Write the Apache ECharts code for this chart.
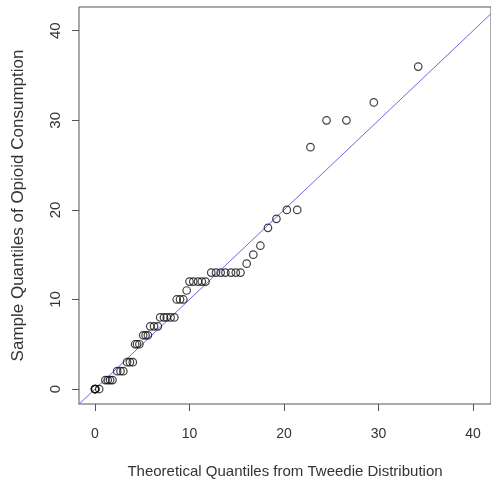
<!DOCTYPE html>
<html>
<head>
<meta charset="utf-8">
<script src="https://cdn.jsdelivr.net/npm/echarts@6/dist/echarts.min.js"></script>
<style>
  html, body { margin: 0; padding: 0; background: #fff; }
  #main { width: 491px; height: 484px; }
</style>
</head>
<body>
<div id="main"></div>
<script>
// theoretical quantiles (x) and sample quantiles (y)
var theoQ = [0, 0, 0, 0.05, 0.45,
  1.1, 1.35, 1.6, 1.85,
  2.35, 2.7, 3.0,
  3.4, 3.7, 4.0,
  4.25, 4.45, 4.7,
  5.1, 5.35, 5.6,
  5.85, 6.25, 6.65,
  6.9, 7.3, 7.6, 8.0, 8.4,
  8.65, 9.0, 9.35,
  9.7,
  10.0, 10.4, 10.9, 11.3, 11.7,
  12.3, 12.8, 13.3, 13.8, 14.4, 14.9, 15.4,
  16.05, 16.75, 17.5, 18.3, 19.2, 20.3, 21.4, 22.8, 24.5, 26.6, 29.5, 34.2];
var sampleQ = [0, 0, 0, 0, 0,
  1, 1, 1, 1,
  2, 2, 2,
  3, 3, 3,
  5, 5, 5,
  6, 6, 6,
  7, 7, 7,
  8, 8, 8, 8, 8,
  10, 10, 10,
  11,
  12, 12, 12, 12, 12,
  13, 13, 13, 13, 13, 13, 13,
  14, 15, 16, 18, 19, 20, 20, 27, 30, 30, 32, 36];
var tickVals = [0, 10, 20, 30, 40];
var refLine = [[-3, -3], [45, 45]];   // y = x

var pts = theoQ.map(function (x, i) { return [x, sampleQ[i]]; });

var myChart = echarts.init(document.getElementById('main'));
// the source picture is stretched vertically, so the rotated y texts run a bit larger
var font = 'Liberation Sans';
var option = {
    animation: false,
    grid: {
        left: 79, right: 0, top: 7, bottom: 79,
        show: true, borderColor: '#555', borderWidth: 1
    },
    xAxis: {
        type: 'value',
        min: -1.69, max: 41.9,
        name: 'Theoretical Quantiles from Tweedie Distribution',
        nameLocation: 'middle',
        nameGap: 60,
        nameTextStyle: { color: '#333', fontFamily: font, fontSize: 15 },
        axisLine: { show: false, onZero: false },
        splitLine: { show: false },
        axisTick: { show: true, length: 7, lineStyle: { color: '#555' }, customValues: tickVals },
        axisLabel: { margin: 23, customValues: tickVals, color: '#333', fontFamily: font, fontSize: 14 }
    },
    yAxis: {
        type: 'value',
        min: -1.67, max: 42.65,
        name: 'Sample Quantiles of Opioid Consumption',
        nameLocation: 'middle',
        nameGap: 52,
        nameTextStyle: { color: '#333', fontFamily: font, fontSize: 17 },
        axisLine: { show: false, onZero: false },
        splitLine: { show: false },
        axisTick: { show: true, length: 7, lineStyle: { color: '#555' }, customValues: tickVals },
        axisLabel: { margin: 16, rotate: 90, customValues: tickVals, color: '#333', fontFamily: font, fontSize: 15 }
    },
    series: [
        {
            type: 'line',
            data: refLine,
            symbol: 'none',
            clip: true,
            lineStyle: { color: '#6a6ae0', width: 1 },
            z: 1
        },
        {
            type: 'scatter',
            data: pts,
            symbol: 'circle',
            symbolSize: 7.5,
            itemStyle: { color: 'rgba(0,0,0,0)', borderColor: '#111', borderWidth: 1.2 },
            z: 2
        }
    ]
};
myChart.setOption(option);
</script>
</body>
</html>
